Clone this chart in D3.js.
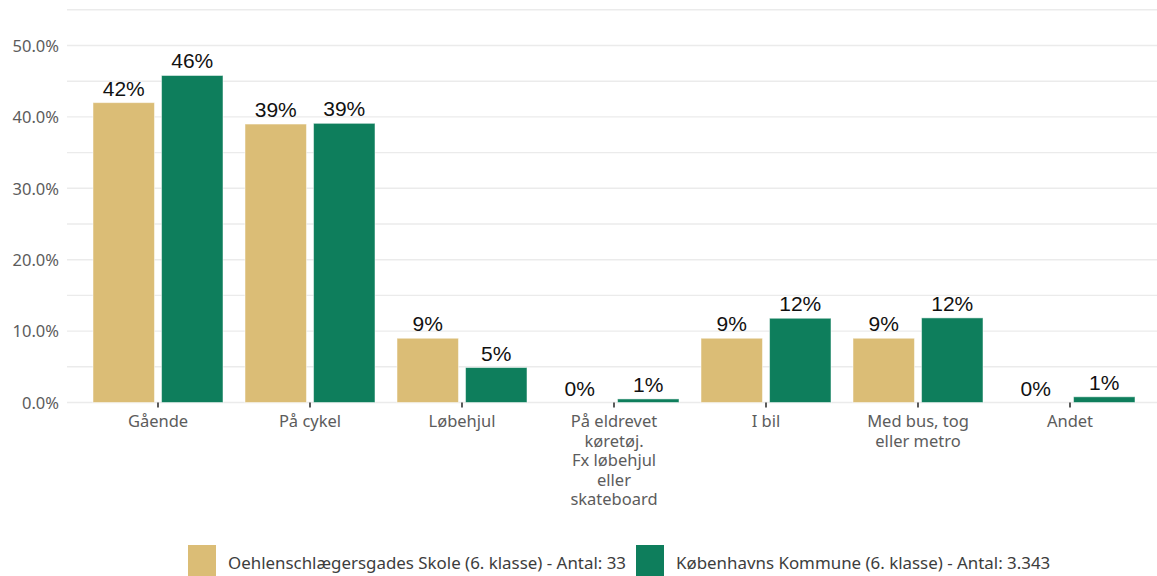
<!DOCTYPE html>
<html>
<head>
<meta charset="utf-8">
<script src="https://cdn.jsdelivr.net/npm/d3@7"></script>
<style>
  body { margin: 0; background: #fff; }
  svg { display: block; }
</style>
</head>
<body>
<div id="chart-area"></div>
<script>
// data
var categories = ["Gående", "På cykel", "Løbehjul", "På eldrevet køretøj. Fx løbehjul eller skateboard", "I bil", "Med bus, tog eller metro", "Andet"];
var categoryLines = [["Gående"], ["På cykel"], ["Løbehjul"], ["På eldrevet", "køretøj.", "Fx løbehjul", "eller", "skateboard"], ["I bil"], ["Med bus, tog", "eller metro"], ["Andet"]];
var seriesNames = ["Oehlenschlægersgades Skole (6. klasse) - Antal: 33", "Københavns Kommune (6. klasse) - Antal: 3.343"];
var schoolValues = [42.0, 39.0, 9.0, 0, 9.0, 9.0, 0];
var kommuneValues = [45.8, 39.1, 4.9, 0.5, 11.8, 11.85, 0.8];
var yTicks = [0, 10, 20, 30, 40, 50];
var yGrid = [0, 5, 10, 15, 20, 25, 30, 35, 40, 45, 50, 55];
var colors = ["#dbbd76", "#0e7e5c"];

var width = 1157, height = 576;

var svg = d3.select("#chart-area")
    .append("svg")
    .attr("width", width)
    .attr("height", height);

// scales
var x = d3.scaleBand()
    .domain(categories)
    .range([82, 1146])
    .paddingInner(22 / 152)
    .paddingOuter(11 / 152);

var xs = d3.scaleBand()
    .domain([0, 1])
    .range([0, x.bandwidth()])
    .paddingInner(0.103);

var y = d3.scaleLinear()
    .domain([0, 55])
    .range([402.5, 9.8]);

// grid
svg.append("g")
    .selectAll("line")
    .data(yGrid)
    .enter().append("line")
    .attr("x1", 67)
    .attr("x2", width)
    .attr("y1", function(d) { return y(d); })
    .attr("y2", function(d) { return y(d); })
    .attr("stroke", "#ebebeb")
    .attr("stroke-width", 1.4);

// y axis labels
var yAxisGroup = svg.append("g")
    .attr("transform", "translate(59, 0)")
    .call(d3.axisLeft(y).tickValues(yTicks).tickSize(0).tickPadding(0)
        .tickFormat(function(d) { return d.toFixed(1) + "%"; }));
yAxisGroup.select(".domain").remove();
yAxisGroup.selectAll("text")
    .attr("font-family", "'Noto Sans', sans-serif")
    .attr("font-size", "16.5px")
    .attr("fill", "#5c5c5c")
    .attr("dy", "0.35em");

// x axis
var xAxisGroup = svg.append("g")
    .attr("transform", "translate(0, " + y(0) + ")")
    .call(d3.axisBottom(x).tickSize(5).tickPadding(8));
xAxisGroup.select(".domain").remove();
xAxisGroup.selectAll(".tick line")
    .attr("stroke", "#333")
    .attr("stroke-width", 1.6);
xAxisGroup.selectAll(".tick text")
    .attr("font-family", "'Noto Sans', sans-serif")
    .attr("font-size", "16.5px")
    .attr("fill", "#5c5c5c")
    .each(function(d, i) {
        var t = d3.select(this);
        t.text(null);
        categoryLines[i].forEach(function(line, j) {
            t.append("tspan")
                .attr("x", 0)
                .attr("dy", j === 0 ? "0.71em" : "1.18em")
                .text(line);
        });
    });

// bars
var rows = categories.map(function(c, i) {
    return { cat: c, values: [schoolValues[i], kommuneValues[i]] };
});

var groups = svg.append("g")
    .selectAll("g")
    .data(rows)
    .enter().append("g")
    .attr("transform", function(d) { return "translate(" + x(d.cat) + ",0)"; });

groups.selectAll("rect")
    .data(function(d) { return d.values; })
    .enter().append("rect")
    .attr("x", function(d, i) { return xs(i); })
    .attr("y", function(d) { return y(d); })
    .attr("width", xs.bandwidth())
    .attr("height", function(d) { return y(0) - y(d); })
    .attr("fill", function(d, i) { return colors[i]; })
    .attr("stroke", "#ffffff")
    .attr("stroke-opacity", 0.5)
    .attr("stroke-width", 1);

groups.selectAll("text")
    .data(function(d) { return d.values; })
    .enter().append("text")
    .attr("x", function(d, i) { return xs(i) + xs.bandwidth() / 2; })
    .attr("y", function(d) { return y(d) - 7; })
    .attr("text-anchor", "middle")
    .attr("font-family", "'Liberation Sans', Arial, sans-serif")
    .attr("font-size", "21px")
    .attr("fill", "#111")
    .text(function(d) { return Math.round(d) + "%"; });

// legend
var legendX = [188, 636];
var legend = svg.append("g")
    .selectAll("g")
    .data(seriesNames)
    .enter().append("g")
    .attr("transform", function(d, i) { return "translate(" + legendX[i] + ",545)"; });

legend.append("rect")
    .attr("width", 28)
    .attr("height", 31)
    .attr("fill", function(d, i) { return colors[i]; });

legend.append("text")
    .attr("x", 40)
    .attr("y", 24)
    .attr("font-family", "'Noto Sans', sans-serif")
    .attr("font-size", "16.9px")
    .attr("fill", "#3d3d3d")
    .text(function(d) { return d; });
</script>
</body>
</html>
